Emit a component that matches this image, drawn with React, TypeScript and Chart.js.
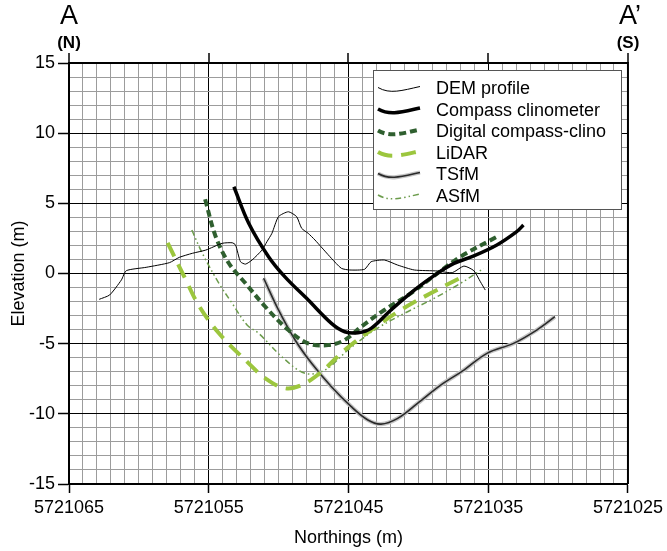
import React, { useEffect, useRef } from 'react';
import { Chart, registerables } from 'chart.js';

Chart.register(...registerables);

// ---- Data (Northings in m, Elevation in m) ----
const demN = [5721062.84, 5721062.09, 5721061.25, 5721060.9, 5721059.48, 5721057.82, 5721057.11, 5721056.17, 5721055.21, 5721054.04, 5721053.32, 5721053.08, 5721052.73, 5721052.37, 5721051.9, 5721051.19, 5721050.84, 5721050.48, 5721050.01, 5721049.3, 5721048.71, 5721048.35, 5721047.88, 5721047.4, 5721046.22, 5721045.51, 5721044.91, 5721043.85, 5721043.38, 5721042.43, 5721041.48, 5721040.29, 5721038.64, 5721037.57, 5721036.74, 5721036.03, 5721035.56, 5721035.21];
const demE = [-1.84, -1.53, -0.46, 0.2, 0.44, 0.77, 1.15, 1.44, 1.67, 2.15, 2.19, 2.03, 0.84, 0.67, 0.96, 1.67, 2.26, 2.86, 4.05, 4.4, 4.05, 3.22, 2.86, 2.39, 1.08, 0.37, 0.25, 0.3, 0.84, 0.96, 0.6, 0.25, 0.18, 0.06, 0.53, 0.2, -0.59, -1.18];

const compassN = [5721053.2, 5721052.14, 5721050.72, 5721049.53, 5721047.88, 5721046.22, 5721045.27, 5721044.32, 5721043.38, 5721041.96, 5721040.29, 5721038.64, 5721037.45, 5721036.03, 5721034.38, 5721032.96, 5721032.48];
const compassE = [6.18, 3.58, 1.2, -0.26, -1.89, -3.55, -4.15, -4.22, -3.91, -2.6, -1.18, 0.01, 0.72, 1.25, 2.03, 2.98, 3.45];

const digitalN = [5721055.26, 5721054.5, 5721053.56, 5721052.37, 5721050.95, 5721049.3, 5721047.88, 5721046.45, 5721045.27, 5721044.09, 5721042.43, 5721040.54, 5721038.64, 5721036.98, 5721034.38];
const digitalE = [5.29, 2.62, 0.73, -0.7, -2.37, -4.03, -4.98, -5.1, -4.74, -3.79, -2.6, -1.41, 0.01, 1.2, 2.62];

const lidarN = [5721057.94, 5721056.64, 5721055.69, 5721054.27, 5721052.14, 5721050.95, 5721049.53, 5721048.35, 5721046.93, 5721045.27, 5721043.38, 5721041.25, 5721039.12, 5721037.01];
const lidarE = [2.19, -0.46, -2.32, -4.26, -6.4, -7.47, -8.18, -7.95, -7.0, -5.45, -4.03, -2.6, -1.41, -0.32];

const tsfmN = [5721051.07, 5721050.01, 5721048.82, 5721047.64, 5721046.22, 5721044.8, 5721043.61, 5721042.67, 5721041.48, 5721040.06, 5721038.4, 5721036.74, 5721035.09, 5721033.19, 5721031.53, 5721030.23];
const tsfmE = [-0.34, -2.6, -4.74, -6.4, -8.07, -9.49, -10.44, -10.73, -10.32, -9.25, -7.95, -6.88, -5.69, -4.98, -4.03, -3.08];

const asfmN = [5721056.21, 5721055.46, 5721054.27, 5721053.32, 5721052.26, 5721051.43, 5721049.77, 5721048.11, 5721046.69, 5721045.03, 5721043.14, 5721041.0, 5721038.87, 5721036.98, 5721035.32];
const asfmE = [3.1, 1.44, -0.7, -2.13, -3.67, -4.26, -5.93, -7.11, -6.88, -5.45, -4.03, -2.84, -1.77, -0.7, 0.37];

const xMin = 5721025;
const xMax = 5721065;
const xMajorTicks = [5721065, 5721055, 5721045, 5721035, 5721025];
const yMin = -15;
const yMax = 15;

const legendLabels = ['DEM profile', 'Compass clinometer', 'Digital compass-clino', 'LiDAR', 'TSfM', 'ASfM'];

const FONT = "'Liberation Sans', Arial, Helvetica, sans-serif";

const styles = {
  dem: { color: '#000000', width: 1, dash: [] as number[] },
  compass: { color: '#000000', width: 3.5, dash: [] as number[] },
  digital: { color: '#2f5f2f', width: 4, dash: [7, 4] },
  lidar: { color: '#9cc63e', width: 4, dash: [15, 9] },
  tsfm: { color: '#2a2a2a', width: 1.6, dash: [] as number[] },
  tsfmHalo: { color: '#c4c4c4', width: 4.2, dash: [] as number[] },
  asfm: { color: '#6c9c4c', width: 1.5, dash: [6, 3, 1.5, 3, 1.5, 3] },
};

function pts(n: number[], e: number[]) {
  return n.map((v, i) => ({ x: v, y: e[i] }));
}

export default function App() {
  const ref = useRef<HTMLCanvasElement>(null);

  useEffect(() => {
    const canvas = ref.current;
    if (!canvas) return;

    const mk = (label: string, data: any[], st: any, tension = 0.35) => ({
      label,
      data,
      showLine: true,
      borderColor: st.color,
      borderWidth: st.width,
      borderDash: st.dash,
      pointRadius: 0,
      pointHoverRadius: 0,
      fill: false,
      tension,
      borderCapStyle: 'butt',
      borderJoinStyle: 'round',
    });

    const overlay = {
      id: 'overlay',
      afterDraw(chart: any) {
        const { ctx, chartArea: a, scales } = chart;
        ctx.save();
        // top and right frame
        ctx.strokeStyle = '#000';
        ctx.lineWidth = 2;
        ctx.beginPath();
        ctx.moveTo(a.left, a.top);
        ctx.lineTo(a.right, a.top);
        ctx.lineTo(a.right, a.bottom);
        ctx.stroke();
        // top tick marks
        ctx.lineWidth = 1.5;
        for (const v of xMajorTicks) {
          const px = Math.round(scales.x.getPixelForValue(v));
          ctx.beginPath();
          ctx.moveTo(px, a.top - 10);
          ctx.lineTo(px, a.top);
          ctx.stroke();
        }

        // legend
        const lx = 373.5, ly = 70.5, lw = 248, lh = 139;
        ctx.fillStyle = '#ffffff';
        ctx.fillRect(lx, ly, lw, lh);
        ctx.strokeStyle = '#555';
        ctx.lineWidth = 1;
        ctx.strokeRect(lx, ly, lw, lh);
        const rowStyles = [[styles.dem], [styles.compass], [styles.digital], [styles.lidar], [styles.tsfmHalo, styles.tsfm], [styles.asfm]];
        ctx.font = `18px ${FONT}`;
        ctx.textBaseline = 'middle';
        ctx.textAlign = 'left';
        for (let i = 0; i < legendLabels.length; i++) {
          const cy = 88.5 + i * 21.5;
          for (const st of rowStyles[i]) {
            ctx.strokeStyle = st.color;
            ctx.lineWidth = st.width;
            ctx.setLineDash(st.dash);
            ctx.lineCap = 'butt';
            ctx.beginPath();
            ctx.moveTo(378, cy - 1);
            ctx.bezierCurveTo(390, cy + 6, 402, cy + 2, 420, cy - 2);
            ctx.stroke();
          }
          ctx.setLineDash([]);
          ctx.fillStyle = '#000';
          ctx.fillText(legendLabels[i], 436, cy + 1);
        }

        // section labels
        ctx.fillStyle = '#000';
        ctx.textAlign = 'center';
        ctx.textBaseline = 'middle';
        ctx.font = `27px ${FONT}`;
        ctx.fillText('A', a.left, 17);
        ctx.fillText('A\u2019', a.right + 2, 17);
        ctx.font = `bold 17px ${FONT}`;
        ctx.fillText('(N)', a.left, 43);
        ctx.fillText('(S)', a.right, 43);
        ctx.restore();
      },
    };

    const chart = new Chart(canvas, {
      type: 'scatter',
      data: {
        datasets: [
          mk('DEM profile', pts(demN, demE), styles.dem, 0.2),
          mk('Compass clinometer', pts(compassN, compassE), styles.compass),
          mk('Digital compass-clino', pts(digitalN, digitalE), styles.digital),
          mk('LiDAR', pts(lidarN, lidarE), styles.lidar),
          mk('TSfM', pts(tsfmN, tsfmE), styles.tsfm),
          mk('TSfM halo', pts(tsfmN, tsfmE), styles.tsfmHalo),
          mk('ASfM', pts(asfmN, asfmE), styles.asfm),
        ] as any,
      },
      options: {
        animation: false,
        responsive: false,
        devicePixelRatio: 1,
        layout: { padding: { top: 63, right: 35.5, left: 0, bottom: 0 } },
        plugins: { legend: { display: false }, tooltip: { enabled: false } },
        events: [],
        scales: {
          x: {
            type: 'linear',
            reverse: true,
            min: xMin,
            max: xMax,
            afterFit(s: any) { s.height = 67; },
            ticks: {
              stepSize: 1,
              autoSkip: false,
              maxTicksLimit: 100,
              maxRotation: 0,
              minRotation: 0,
              padding: 4,
              color: '#000',
              font: { family: FONT, size: 18 },
              callback: (v: any) => {
                const r = Math.round(Number(v));
                return (r - xMin) % 10 === 0 ? String(r) : '';
              },
            },
            grid: {
              color: (c: any) => (c.tick && (Math.round(c.tick.value) - xMin) % 10 === 0 ? '#000' : '#9c9c9c'),
              lineWidth: 1,
              tickLength: 9,
              tickWidth: 1.5,
              tickColor: (c: any) => (c.tick && (Math.round(c.tick.value) - xMin) % 10 === 0 ? '#000' : 'rgba(0,0,0,0)'),
            },
            border: { display: true, color: '#000', width: 2 },
            title: { display: true, text: 'Northings (m)', color: '#000', font: { family: FONT, size: 18 }, padding: { top: 4, bottom: 2 } },
          },
          y: {
            type: 'linear',
            min: yMin,
            max: yMax,
            afterFit(s: any) { s.width = 69; },
            ticks: {
              stepSize: 1,
              autoSkip: false,
              maxTicksLimit: 100,
              padding: 3,
              color: '#000',
              font: { family: FONT, size: 18 },
              callback: (v: any) => {
                const r = Math.round(Number(v));
                return r % 5 === 0 ? String(r) : '';
              },
            },
            grid: {
              color: (c: any) => (c.tick && Math.round(c.tick.value) % 5 === 0 ? '#000' : '#9c9c9c'),
              lineWidth: 1,
              tickLength: 11,
              tickWidth: 1.5,
              tickColor: (c: any) => (c.tick && Math.round(c.tick.value) % 5 === 0 ? '#000' : 'rgba(0,0,0,0)'),
            },
            border: { display: true, color: '#000', width: 2 },
            title: { display: true, text: 'Elevation (m)', color: '#000', font: { family: FONT, size: 18 }, padding: { top: 8, bottom: 0 } },
          },
        },
      } as any,
      plugins: [overlay],
    });

    return () => chart.destroy();
  }, []);

  return (
    <div style={{ position: 'absolute', left: 0, top: 0, width: 667, height: 551, background: '#fff' }}>
      <canvas ref={ref} width={667} height={551} style={{ display: 'block', width: 667, height: 551 }} />
    </div>
  );
}
